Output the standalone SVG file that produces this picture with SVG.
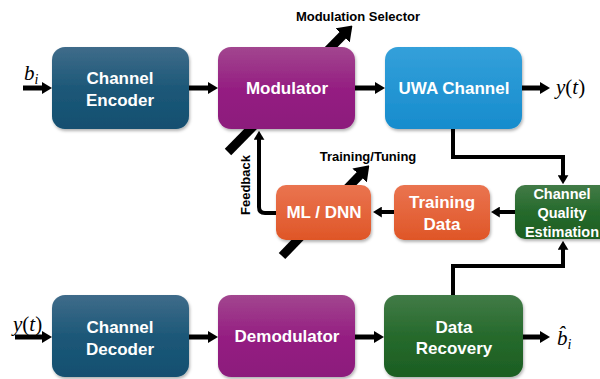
<svg xmlns="http://www.w3.org/2000/svg" width="600" height="379" viewBox="0 0 600 379">
<defs>
<linearGradient id="gBlue" x1="0" y1="0" x2="0" y2="1"><stop offset="0" stop-color="#3f6c8a"/><stop offset="0.5" stop-color="#1d5878"/><stop offset="1" stop-color="#124f70"/></linearGradient>
<linearGradient id="gPurple" x1="0" y1="0" x2="0" y2="1"><stop offset="0" stop-color="#a2468f"/><stop offset="0.5" stop-color="#951f82"/><stop offset="1" stop-color="#8c1a7c"/></linearGradient>
<linearGradient id="gSky" x1="0" y1="0" x2="0" y2="1"><stop offset="0" stop-color="#34a0da"/><stop offset="1" stop-color="#168ccd"/></linearGradient>
<linearGradient id="gOrange" x1="0" y1="0" x2="0" y2="1"><stop offset="0" stop-color="#ea7450"/><stop offset="1" stop-color="#df5627"/></linearGradient>
<linearGradient id="gGreen" x1="0" y1="0" x2="0" y2="1"><stop offset="0" stop-color="#427b47"/><stop offset="0.5" stop-color="#266a2c"/><stop offset="1" stop-color="#1c5e22"/></linearGradient>
<filter id="sh" x="-10%" y="-10%" width="130%" height="140%"><feDropShadow dx="1" dy="2" stdDeviation="1.5" flood-color="#000" flood-opacity="0.3"/></filter>
<marker id="ah" viewBox="0 -6 10 12" refX="2" refY="0" markerWidth="10" markerHeight="12" markerUnits="userSpaceOnUse" orient="auto"><path d="M0,-6 L10,0 L0,6 z" fill="#000"/></marker>
<marker id="ahs" viewBox="0 -6 10 12" refX="2" refY="0" markerWidth="9" markerHeight="11" markerUnits="userSpaceOnUse" orient="auto"><path d="M0,-6 L10,0 L0,6 z" fill="#000"/></marker>
<marker id="big" viewBox="0 -10 14 20" refX="2" refY="0" markerWidth="14" markerHeight="20" markerUnits="userSpaceOnUse" orient="auto"><path d="M0,-10 L14,0 L0,10 z" fill="#000"/></marker>
</defs>
<style>
.box{filter:url(#sh);}
.t{font-family:"Liberation Sans",Arial,sans-serif;font-weight:bold;fill:#fff;font-size:17px;text-anchor:middle;}
.ts{font-size:14.5px;}
.lbl{font-family:"Liberation Sans",Arial,sans-serif;font-weight:bold;fill:#000;font-size:13px;text-anchor:middle;}
.m{font-family:"Liberation Serif","DejaVu Serif",serif;font-style:italic;fill:#000;font-size:21px;}
.c{fill:none;stroke:#000;}
.thick{stroke-width:5;}
.mid{stroke-width:4;}
.diag{stroke-width:9;}
</style>
<g id="connectors">
<line class="c diag" x1="228" y1="152" x2="344" y2="34" marker-end="url(#big)"/>
<line class="c diag" x1="282" y1="256" x2="361" y2="174" marker-end="url(#big)"/>
<line class="c thick" x1="23" y1="88" x2="44" y2="88" marker-end="url(#ah)"/>
<line class="c thick" x1="189" y1="88" x2="210" y2="88" marker-end="url(#ah)"/>
<line class="c thick" x1="355" y1="88" x2="377" y2="88" marker-end="url(#ah)"/>
<line class="c thick" x1="522" y1="88" x2="542" y2="88" marker-end="url(#ah)"/>
<line class="c thick" x1="15" y1="337" x2="44" y2="337" marker-end="url(#ah)"/>
<line class="c thick" x1="189" y1="337" x2="210" y2="337" marker-end="url(#ah)"/>
<line class="c thick" x1="355" y1="337" x2="376" y2="337" marker-end="url(#ah)"/>
<line class="c thick" x1="523" y1="337" x2="542" y2="337" marker-end="url(#ah)"/>
<path class="c mid" d="M453 129 V157 H563 V177" marker-end="url(#ahs)"/>
<path class="c mid" d="M453 295 V266 H563 V248" marker-end="url(#ahs)"/>
<line class="c mid" x1="515" y1="212" x2="498" y2="212" marker-end="url(#ahs)"/>
<line class="c mid" x1="394" y1="212" x2="380" y2="212" marker-end="url(#ahs)"/>
<path class="c mid" d="M277 213 H265 Q259 213 259 207 V138" marker-end="url(#ahs)"/>
<text class="lbl" x="358" y="21">Modulation Selector</text>
<text class="lbl" x="368" y="161">Training/Tuning</text>
<text class="lbl" x="0" y="0" transform="translate(250,185) rotate(-90)">Feedback</text>
<text class="m" x="24" y="80">b<tspan font-size="14" dy="4">i</tspan></text>
<text class="m" x="556" y="94">y<tspan font-style="normal">(</tspan>t<tspan font-style="normal">)</tspan></text>
<text class="m" x="13" y="331">y<tspan font-style="normal">(</tspan>t<tspan font-style="normal">)</tspan></text>
<text class="m" x="557" y="345">b̂<tspan font-size="14" dy="4">i</tspan></text>
</g>
<g id="channel-encoder"><rect class="box" x="52" y="47" width="137" height="82" rx="13" fill="url(#gBlue)"/><text class="t" x="120" y="84">Channel</text><text class="t" x="120" y="106">Encoder</text></g>
<g id="modulator"><rect class="box" x="218" y="47" width="137" height="82" rx="13" fill="url(#gPurple)"/><text class="t" x="287" y="94">Modulator</text></g>
<g id="uwa-channel"><rect class="box" x="385" y="47" width="137" height="82" rx="13" fill="url(#gSky)"/><text class="t" x="454" y="94">UWA Channel</text></g>
<g id="ml-dnn"><rect class="box" x="276" y="185" width="95" height="55" rx="10" fill="url(#gOrange)"/><text class="t" x="324" y="218">ML / DNN</text></g>
<g id="training-data"><rect class="box" x="394" y="185" width="96" height="55" rx="10" fill="url(#gOrange)"/><text class="t" x="442" y="208">Training</text><text class="t" x="442" y="230">Data</text></g>
<g id="channel-quality-estimation"><rect class="box" x="515" y="185" width="100" height="54" rx="10" fill="url(#gGreen)"/><text class="t ts" x="562" y="199">Channel</text><text class="t ts" x="562" y="218">Quality</text><text class="t ts" x="562" y="237">Estimation</text></g>
<g id="channel-decoder"><rect class="box" x="52" y="295" width="137" height="82" rx="13" fill="url(#gBlue)"/><text class="t" x="120" y="333">Channel</text><text class="t" x="120" y="355">Decoder</text></g>
<g id="demodulator"><rect class="box" x="218" y="295" width="137" height="82" rx="13" fill="url(#gPurple)"/><text class="t" x="287" y="342">Demodulator</text></g>
<g id="data-recovery"><rect class="box" x="384" y="295" width="139" height="82" rx="13" fill="url(#gGreen)"/><text class="t" x="454" y="333">Data</text><text class="t" x="454" y="354">Recovery</text></g>
</svg>
